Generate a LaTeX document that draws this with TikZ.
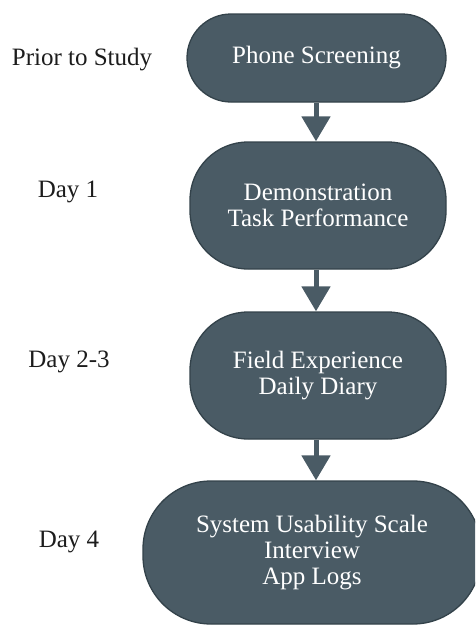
\documentclass[tikz,border=0pt]{standalone}
\usepackage{fontspec}
\setmainfont{Liberation Serif}
\usetikzlibrary{arrows.meta}
\definecolor{slatefill}{HTML}{4A5B65}
\definecolor{slateedge}{HTML}{33424A}
\definecolor{labelink}{HTML}{1C1C1C}
\begin{document}
\begin{tikzpicture}[x=1pt,y=-1pt,
  stage/.style={draw=slateedge, line width=1.3pt, fill=slatefill, text=white,
    align=center, inner sep=0pt, font=\fontsize{25}{26}\selectfont},
  daylabel/.style={text=labelink, inner sep=0pt, font=\fontsize{25}{26}\selectfont},
  flow/.style={slatefill, line width=5pt,
    -{Triangle[width=28pt,length=25pt]}}]
  \useasboundingbox (0,0) rectangle (475,627);
  \clip (0,0) rectangle (475,627);

  % study stages
  \node[stage, minimum width=259pt, minimum height=88pt, rounded corners=44pt]
    (s1) at (316.5,58) {Phone Screening};
  \node[stage, minimum width=256pt, minimum height=127pt, rounded corners=58pt]
    (s2) at (318,205.5) {Demonstration\\Task Performance};
  \node[stage, minimum width=256pt, minimum height=127pt, rounded corners=58pt]
    (s3) at (318,375.5) {Field Experience\\Daily Diary};
  \node[stage, minimum width=338pt, minimum height=143pt, rounded corners=68pt]
    (s4) at (312,552.5) {System Usability Scale\\Interview\\App Logs};

  % timeline labels
  \node[daylabel] (t1) at (82,60) {Prior to Study};
  \node[daylabel] (t2) at (68,192) {Day 1};
  \node[daylabel] (t3) at (69,362) {Day 2-3};
  \node[daylabel] (t4) at (69,542) {Day 4};

  % connectors between stages
  \coordinate (a1) at (316,0);
  \draw[flow] (s1.south -| a1) -- (s2.north -| a1);
  \draw[flow] (s2.south -| a1) -- (s3.north -| a1);
  \draw[flow] (s3.south -| a1) -- (s4.north -| a1);
\end{tikzpicture}
\end{document}
